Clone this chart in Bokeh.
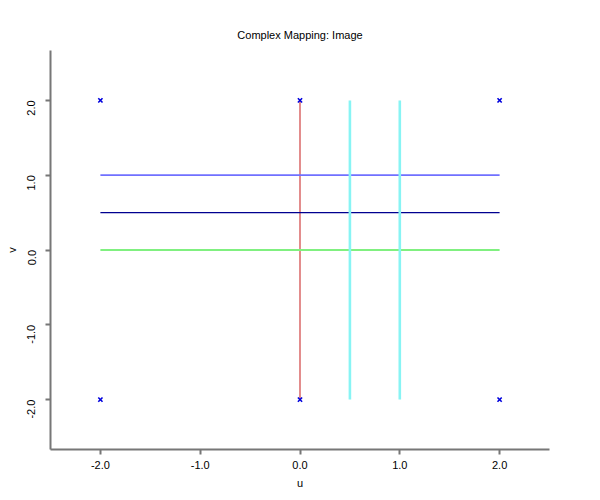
import math
from bokeh.plotting import figure
from bokeh.models import FixedTicker, PrintfTickFormatter, Range1d
from bokeh.embed import file_html
from bokeh.resources import INLINE

# data
h_y = [1.0, 0.5, 0.0]
h_x0 = [-2.0, -2.0, -2.0]
h_x1 = [2.0, 2.0, 2.0]
h_colors = ["#7070ff", "#000090", "#80f080"]
h_widths = [1.8, 1.3, 2.2]

v_x = [0.0, 0.5, 1.0]
v_y0 = [-2.0, -2.0, -2.0]
v_y1 = [2.0, 2.0, 2.0]
v_colors = ["#e08080", "#88f4f4", "#88f4f4"]
v_widths = [1.8, 2.6, 2.6]

pt_u = [-2.0, 0.0, 2.0, -2.0, 0.0, 2.0]
pt_v = [2.0, 2.0, 2.0, -2.0, -2.0, -2.0]

ticks = [-2.0, -1.0, 0.0, 1.0, 2.0]

p = figure(width=584, height=484, output_backend="svg", toolbar_location=None,
           x_range=Range1d(-2.5, 2.5), y_range=Range1d(-2.667, 2.667),
           title="Complex Mapping: Image",
           min_border_left=50, min_border_right=35, min_border_top=50, min_border_bottom=35)
p.frame_width = 499
p.frame_height = 399

p.title.align = "center"
p.title.text_font = "Liberation Sans"
p.title.text_font_size = "11px"
p.title.text_font_style = "normal"
p.title.text_color = "black"
p.title.offset = 0
p.title.standoff = 19

p.xgrid.visible = False
p.ygrid.visible = False
p.outline_line_color = None

# vertical red first
p.segment(x0=[v_x[0]], y0=[v_y0[0]], x1=[v_x[0]], y1=[v_y1[0]],
          line_color=v_colors[0], line_width=v_widths[0])
for i in range(3):
    p.segment(x0=[h_x0[i]], y0=[h_y[i]], x1=[h_x1[i]], y1=[h_y[i]],
              line_color=h_colors[i], line_width=h_widths[i])
for i in range(1, 3):
    p.segment(x0=[v_x[i]], y0=[v_y0[i]], x1=[v_x[i]], y1=[v_y1[i]],
              line_color=v_colors[i], line_width=v_widths[i])

p.scatter(pt_u, pt_v, marker="x", size=6, line_color="#0000dd", line_width=1.6)

for ax in (p.xaxis[0], p.yaxis[0]):
    ax.ticker = FixedTicker(ticks=ticks)
    ax.formatter = PrintfTickFormatter(format="%.1f")
    ax.minor_tick_line_color = None
    ax.axis_line_color = "#777777"
    ax.axis_line_width = 2
    ax.major_tick_line_color = "#777777"
    ax.major_tick_line_width = 2
    ax.major_tick_out = 5
    ax.major_tick_in = 0
    ax.major_label_text_font = "Liberation Sans"
    ax.major_label_text_font_size = "11px"
    ax.major_label_text_color = "black"
    ax.axis_label_text_font = "Liberation Sans"
    ax.axis_label_text_font_size = "11px"
    ax.axis_label_text_font_style = "normal"
    ax.axis_label_text_color = "black"

p.xaxis.axis_label = "u"
p.yaxis.axis_label = "v"
p.yaxis.major_label_orientation = math.pi / 2
p.xaxis.major_label_standoff = 6
p.yaxis.major_label_standoff = 14
p.xaxis.axis_label_standoff = 5
p.yaxis.axis_label_standoff = 3

open("out.html", "w").write(file_html(p, INLINE))
